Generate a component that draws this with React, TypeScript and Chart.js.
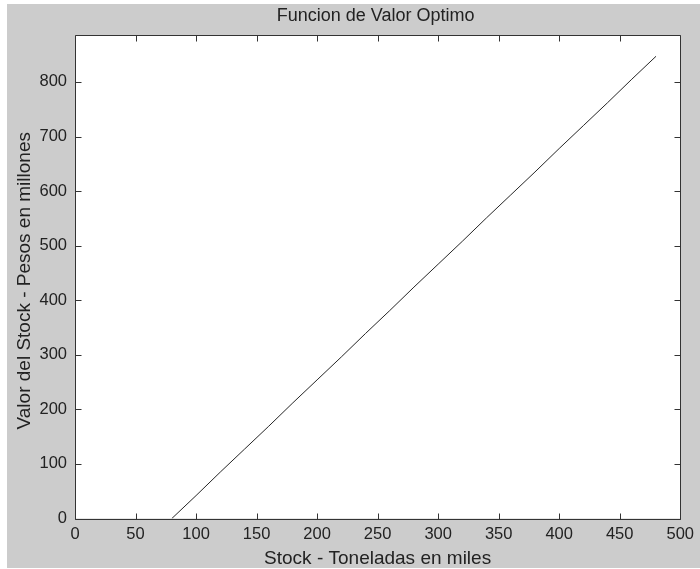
import React, { useEffect, useRef } from "react";
import { Chart, registerables } from "chart.js";

Chart.register(...registerables);

// Stock (thousand tonnes) and optimal value (million pesos)
const stock: number[] = [80, 100, 120, 140, 160, 180, 200, 220, 240, 260, 280, 300, 320, 340, 360, 380, 400, 420, 440, 460, 480];
const valor: number[] = [0, 42, 85, 127, 169, 212, 254, 296, 339, 381, 424, 466, 508, 551, 593, 635, 678, 720, 762, 805, 847];

const xTicks: number[] = [0, 50, 100, 150, 200, 250, 300, 350, 400, 450, 500];
const yTicks: number[] = [0, 100, 200, 300, 400, 500, 600, 700, 800];

const titulo = "Funcion de Valor Optimo";
const tituloX = "Stock - Toneladas en miles";
const tituloY = "Valor del Stock - Pesos en millones";

const X_MIN = 0;
const X_MAX = 500;
const Y_MIN = 0;
const Y_MAX = 886;

const FONT = "'Liberation Sans', Arial, Helvetica, sans-serif";
const TEXT = "#222222";
const AXIS = "#333333";

// Axes box with inward ticks on all four sides, white plot area and titles
const matlabAxes = {
  id: "matlabAxes",
  beforeDraw(chart: any) {
    const { ctx, chartArea: a } = chart;
    ctx.save();
    ctx.fillStyle = "#ffffff";
    ctx.fillRect(a.left, a.top, a.right - a.left, a.bottom - a.top);
    ctx.restore();
  },
  afterDraw(chart: any) {
    const { ctx, chartArea: a, scales } = chart;
    const xs = scales.x;
    const ys = scales.y;
    const L = Math.round(a.left) + 0.5;
    const R = Math.round(a.right) + 0.5;
    const T = Math.round(a.top) + 0.5;
    const B = Math.round(a.bottom) + 0.5;
    ctx.save();
    ctx.strokeStyle = AXIS;
    ctx.lineWidth = 1;
    ctx.beginPath();
    ctx.rect(L, T, R - L, B - T);
    const tl = 6;
    xTicks.forEach((v) => {
      const px = Math.round(xs.getPixelForValue(v)) + 0.5;
      ctx.moveTo(px, B);
      ctx.lineTo(px, B - tl);
      ctx.moveTo(px, T);
      ctx.lineTo(px, T + tl);
    });
    yTicks.forEach((v) => {
      const py = Math.round(ys.getPixelForValue(v)) + 0.5;
      ctx.moveTo(L, py);
      ctx.lineTo(L + tl, py);
      ctx.moveTo(R, py);
      ctx.lineTo(R - tl, py);
    });
    ctx.stroke();

    const cx = (a.left + a.right) / 2;
    ctx.fillStyle = TEXT;
    ctx.textAlign = "center";
    ctx.textBaseline = "alphabetic";
    ctx.font = `18px ${FONT}`;
    ctx.fillText(titulo, cx - 2, 17);
    ctx.font = `19px ${FONT}`;
    ctx.fillText(tituloX, cx, chart.height - 4.5);

    ctx.translate(23, (a.top + a.bottom) / 2 + 4);
    ctx.rotate(-Math.PI / 2);
    ctx.fillText(tituloY, 0, 0);
    ctx.restore();
  },
};

export default function App() {
  const canvasRef = useRef<HTMLCanvasElement | null>(null);

  useEffect(() => {
    const canvas = canvasRef.current;
    if (!canvas) return;
    const points = stock.map((x, i) => ({ x, y: valor[i] }));
    const chart = new Chart(canvas, {
      type: "line",
      data: {
        datasets: [
          {
            data: points,
            borderColor: "#262626",
            borderWidth: 1,
            pointRadius: 0,
            tension: 0,
            fill: false,
          },
        ],
      },
      options: {
        responsive: false,
        animation: false,
        events: [],
        layout: { padding: { top: 31, right: 16, left: 0, bottom: 0 } },
        plugins: {
          legend: { display: false },
          title: { display: false },
          tooltip: { enabled: false },
        },
        scales: {
          x: {
            type: "linear",
            min: X_MIN,
            max: X_MAX,
            grid: { display: false, drawTicks: false },
            border: { display: false },
            ticks: {
              stepSize: 50,
              padding: 6,
              color: TEXT,
              font: { family: FONT, size: 16.5 },
              maxRotation: 0,
              autoSkip: false,
            },
            afterBuildTicks: (s: any) => {
              s.ticks = xTicks.map((v) => ({ value: v }));
            },
            afterFit: (s: any) => {
              s.height = 49.5;
            },
          },
          y: {
            type: "linear",
            min: Y_MIN,
            max: Y_MAX,
            grid: { display: false, drawTicks: false },
            border: { display: false },
            ticks: {
              stepSize: 100,
              padding: 8,
              color: TEXT,
              font: { family: FONT, size: 16.5 },
              autoSkip: false,
              includeBounds: false,
            },
            afterBuildTicks: (s: any) => {
              s.ticks = yTicks.map((v) => ({ value: v }));
            },
            afterFit: (s: any) => {
              s.width = 68;
            },
          },
        },
      },
      plugins: [matlabAxes],
    });
    return () => chart.destroy();
  }, []);

  return (
    <div
      style={{
        position: "absolute",
        left: 7,
        top: 4,
        width: 693,
        height: 564,
        background: "#cccccc",
      }}
    >
      <canvas ref={canvasRef} width={693} height={564} style={{ display: "block" }} />
    </div>
  );
}
